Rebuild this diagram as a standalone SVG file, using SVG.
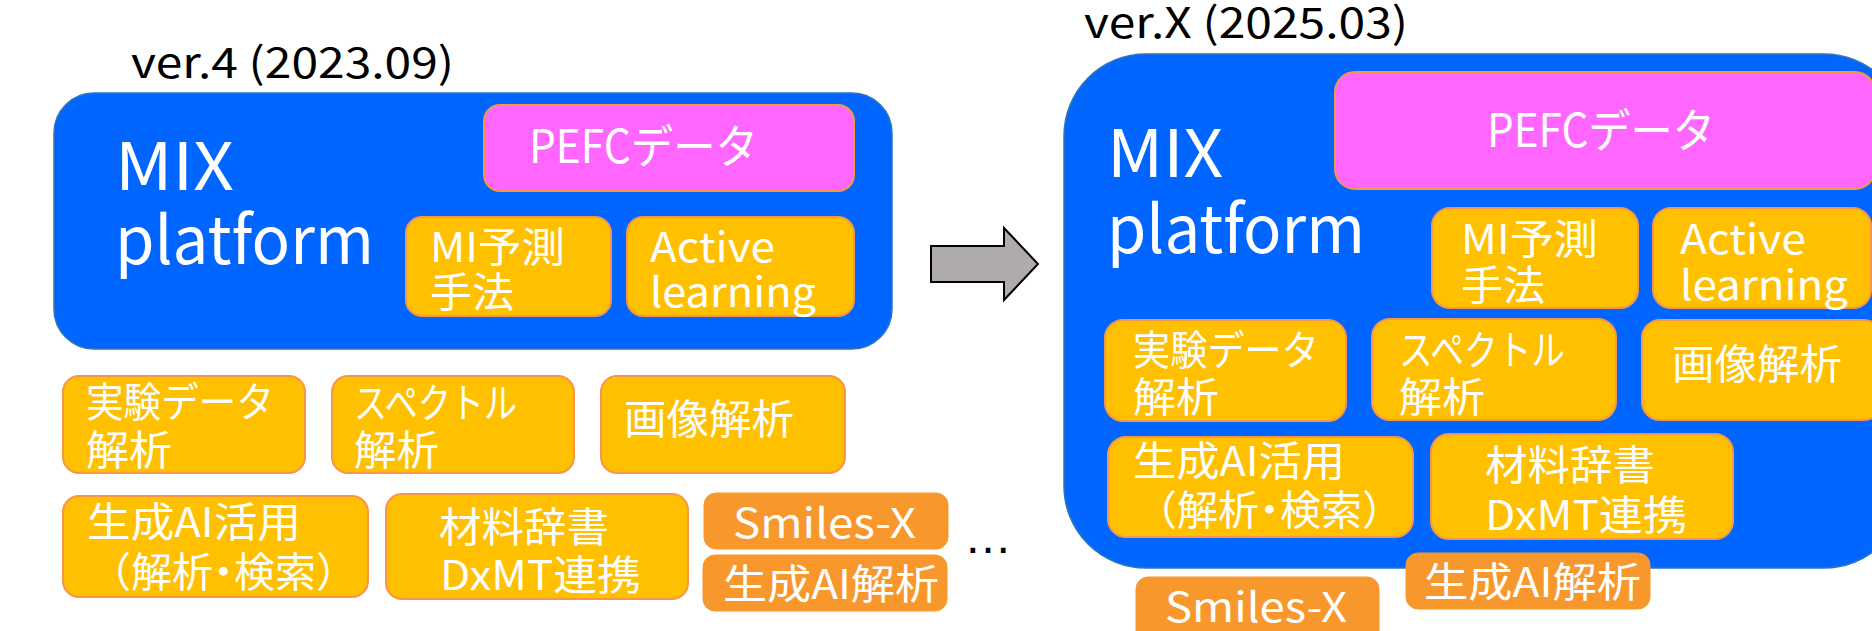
<svg xmlns="http://www.w3.org/2000/svg" width="1872" height="631" viewBox="0 0 1872 631">
<style>
.bg{fill:#ffffff}
.blue{fill:#0066FF;stroke:#2E75B6;stroke-width:1.5}
.y{fill:#FFC000;stroke:#F79646;stroke-width:2}
.o{fill:#F8982C;stroke:#F8982C;stroke-width:1}
.p{fill:#FF66FF;stroke:#F79646;stroke-width:2}
text{font-family:"Noto Sans CJK JP","Noto Sans",sans-serif;fill:#ffffff;font-size:41px}
.title{fill:#000000;font-size:42px}
.big{font-size:66px}
.pefc{font-size:46px}
.dots{fill:#000000;font-family:"Liberation Sans",Arial,sans-serif;font-size:48px}
</style>
<rect class="bg" x="0" y="0" width="1872" height="631"/>

<g id="title-v4"><text class="title" x="131" y="78" textLength="323" lengthAdjust="spacingAndGlyphs">ver.4 (2023.09)</text></g>
<g id="title-vX"><text class="title" x="1084" y="38" textLength="324" lengthAdjust="spacingAndGlyphs">ver.X (2025.03)</text></g>

<!-- Left: ver.4 -->
<g id="v4-platform">
<rect class="blue" x="54" y="93" width="838" height="256" rx="40"/>
<text class="big" x="115" y="190" textLength="119" lengthAdjust="spacingAndGlyphs">MIX</text>
<text class="big" x="115" y="264" textLength="259" lengthAdjust="spacingAndGlyphs">platform</text>
</g>
<g id="v4-pefc">
<rect class="p" x="484" y="105" width="370" height="86" rx="16"/>
<text class="pefc" x="529" y="163" textLength="229" lengthAdjust="spacingAndGlyphs">PEFCデータ</text>
</g>
<g id="v4-mi">
<rect class="y" x="406" y="217" width="205" height="99" rx="16"/>
<text x="430" y="262" textLength="135" lengthAdjust="spacingAndGlyphs">MI予測</text>
<text x="430" y="307" textLength="84" lengthAdjust="spacingAndGlyphs">手法</text>
</g>
<g id="v4-active">
<rect class="y" x="627" y="217" width="227" height="99" rx="16"/>
<text x="650" y="262" textLength="125" lengthAdjust="spacingAndGlyphs">Active</text>
<text x="650" y="307" textLength="166" lengthAdjust="spacingAndGlyphs">learning</text>
</g>
<g id="v4-exp">
<rect class="y" x="63" y="376" width="242" height="97" rx="16"/>
<text x="86" y="417" textLength="188" lengthAdjust="spacingAndGlyphs">実験データ</text>
<text x="86" y="465" textLength="86" lengthAdjust="spacingAndGlyphs">解析</text>
</g>
<g id="v4-spec">
<rect class="y" x="332" y="376" width="242" height="97" rx="16"/>
<text x="354" y="418" textLength="163" lengthAdjust="spacingAndGlyphs">スペクトル</text>
<text x="354" y="465" textLength="85" lengthAdjust="spacingAndGlyphs">解析</text>
</g>
<g id="v4-image">
<rect class="y" x="601" y="376" width="244" height="97" rx="16"/>
<text x="624" y="434" textLength="170" lengthAdjust="spacingAndGlyphs">画像解析</text>
</g>
<g id="v4-genai">
<rect class="y" x="63" y="496" width="305" height="101" rx="16"/>
<text x="87" y="537" textLength="214" lengthAdjust="spacingAndGlyphs">生成AI活用</text>
<text x="90" y="587">（解析<tspan dx="-10">・</tspan><tspan dx="-10">検索）</tspan></text>
</g>
<g id="v4-dict">
<rect class="y" x="386" y="494" width="302" height="105" rx="16"/>
<text x="439" y="542" textLength="170" lengthAdjust="spacingAndGlyphs">材料辞書</text>
<text x="440" y="590" textLength="201" lengthAdjust="spacingAndGlyphs">DxMT連携</text>
</g>
<g id="v4-smiles">
<rect class="o" x="704" y="493" width="244" height="56" rx="12"/>
<text x="733" y="538" textLength="183" lengthAdjust="spacingAndGlyphs">Smiles-X</text>
</g>
<g id="v4-genai-analysis">
<rect class="o" x="703" y="555" width="244" height="56" rx="12"/>
<text x="723" y="599" textLength="216" lengthAdjust="spacingAndGlyphs">生成AI解析</text>
</g>
<g id="v4-more"><text class="dots" x="964" y="553">…</text></g>

<!-- Connector -->
<g id="connectors">
<polygon points="931,246 1004,246 1004,228 1038,264 1004,300 1004,282 931,282" fill="#AFABAB" stroke="#000000" stroke-width="2" stroke-linejoin="miter"/>
</g>

<!-- Right: ver.X -->
<g id="vX-platform">
<rect class="blue" x="1064" y="54" width="842" height="514" rx="82"/>
<text class="big" x="1107" y="177" textLength="116" lengthAdjust="spacingAndGlyphs">MIX</text>
<text class="big" x="1107" y="253" textLength="258" lengthAdjust="spacingAndGlyphs">platform</text>
</g>
<g id="vX-pefc">
<rect class="p" x="1335" y="72" width="540" height="117" rx="20"/>
<text class="pefc" x="1487" y="147" textLength="228" lengthAdjust="spacingAndGlyphs">PEFCデータ</text>
</g>
<g id="vX-mi">
<rect class="y" x="1432" y="208" width="206" height="100" rx="18"/>
<text x="1461" y="254" textLength="137" lengthAdjust="spacingAndGlyphs">MI予測</text>
<text x="1461" y="300" textLength="84" lengthAdjust="spacingAndGlyphs">手法</text>
</g>
<g id="vX-active">
<rect class="y" x="1653" y="208" width="218" height="100" rx="18"/>
<text x="1680" y="254" textLength="126" lengthAdjust="spacingAndGlyphs">Active</text>
<text x="1680" y="300" textLength="168" lengthAdjust="spacingAndGlyphs">learning</text>
</g>
<g id="vX-exp">
<rect class="y" x="1105" y="320" width="241" height="101" rx="18"/>
<text x="1133" y="365" textLength="186" lengthAdjust="spacingAndGlyphs">実験データ</text>
<text x="1133" y="412" textLength="86" lengthAdjust="spacingAndGlyphs">解析</text>
</g>
<g id="vX-spec">
<rect class="y" x="1372" y="319" width="244" height="101" rx="18"/>
<text x="1399" y="365" textLength="166" lengthAdjust="spacingAndGlyphs">スペクトル</text>
<text x="1399" y="412" textLength="86" lengthAdjust="spacingAndGlyphs">解析</text>
</g>
<g id="vX-image">
<rect class="y" x="1642" y="320" width="240" height="100" rx="18"/>
<text x="1672" y="379" textLength="170" lengthAdjust="spacingAndGlyphs">画像解析</text>
</g>
<g id="vX-genai">
<rect class="y" x="1108" y="437" width="305" height="100" rx="18"/>
<text x="1133" y="476" textLength="212" lengthAdjust="spacingAndGlyphs">生成AI活用</text>
<text x="1136" y="525">（解析<tspan dx="-10">・</tspan><tspan dx="-10">検索）</tspan></text>
</g>
<g id="vX-dict">
<rect class="y" x="1431" y="434" width="302" height="105" rx="18"/>
<text x="1485" y="480" textLength="170" lengthAdjust="spacingAndGlyphs">材料辞書</text>
<text x="1485" y="530" textLength="202" lengthAdjust="spacingAndGlyphs">DxMT連携</text>
</g>
<g id="vX-genai-analysis">
<rect class="o" x="1406" y="553" width="244" height="56" rx="12"/>
<text x="1424" y="597" textLength="217" lengthAdjust="spacingAndGlyphs">生成AI解析</text>
</g>
<g id="vX-smiles">
<rect class="o" x="1136" y="577" width="243" height="70" rx="12"/>
<text x="1165" y="622" textLength="182" lengthAdjust="spacingAndGlyphs">Smiles-X</text>
</g>
</svg>
